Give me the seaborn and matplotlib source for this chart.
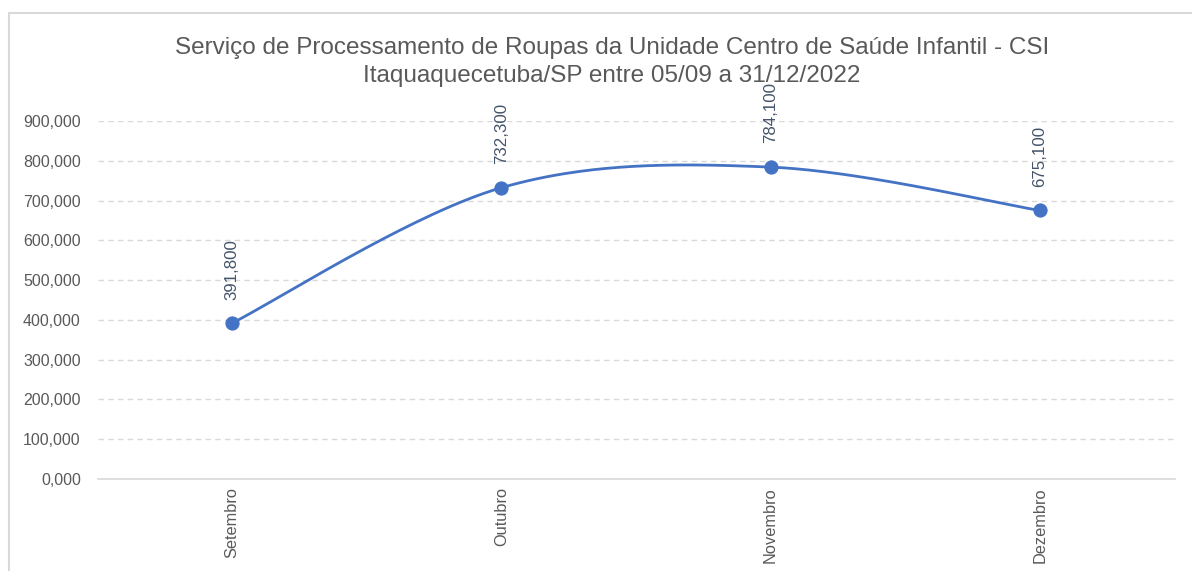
import numpy as np
import pandas as pd
import matplotlib
matplotlib.use("Agg")
import matplotlib.pyplot as plt
import seaborn as sns
from matplotlib.lines import Line2D
from matplotlib.ticker import MultipleLocator, FuncFormatter

# DATA

meses = ["Setembro", "Outubro", "Novembro", "Dezembro"]
quilos = [391.8, 732.3, 784.1, 675.1]
titulo = ("Serviço de Processamento de Roupas da Unidade Centro de Saúde Infantil - CSI\n"
          "Itaquaquecetuba/SP entre 05/09 a 31/12/2022")

df = pd.DataFrame({"mes": meses, "valor": quilos})
df["pos"] = np.arange(len(meses))


# SMOOTH LINE (catmull-rom like excel)

def suavizar(x, y, n=60):
    x = np.asarray(x, float)
    y = np.asarray(y, float)
    px = np.concatenate([[x[0]], x, [x[-1]]])
    py = np.concatenate([[y[0]], y, [y[-1]]])
    xs, ys = [], []
    t = np.linspace(0, 1, n)
    for i in range(1, len(px) - 2):
        p0 = np.array([px[i], py[i]])
        p3 = np.array([px[i + 1], py[i + 1]])
        c1 = p0 + (p3 - np.array([px[i - 1], py[i - 1]])) / 6
        c2 = p3 - (np.array([px[i + 2], py[i + 2]]) - p0) / 6
        b = ((1 - t) ** 3)[:, None] * p0 + (3 * (1 - t) ** 2 * t)[:, None] * c1 \
            + (3 * (1 - t) * t ** 2)[:, None] * c2 + (t ** 3)[:, None] * p3
        xs.extend(b[:, 0])
        ys.extend(b[:, 1])
    return pd.DataFrame({"x": xs, "y": ys})

curva = suavizar(df["pos"], df["valor"])


# PLOT

sns.set_theme(style="white")
plt.rcParams["font.family"] = ["Liberation Sans", "DejaVu Sans"]

azul = "#4472C4"
cinza = "#595959"

fig = plt.figure(figsize=(11.92, 5.71), dpi=100)
ax = fig.add_axes([97.5 / 1192, 92 / 571, 1077 / 1192, 358 / 571])

sns.lineplot(data=curva, x="x", y="y", ax=ax, color=azul, linewidth=2,
             sort=False, estimator=None)
sns.scatterplot(data=df, x="pos", y="valor", ax=ax, color=azul, s=90,
                edgecolor=azul, zorder=5)

for p, v in zip(df["pos"], df["valor"]):
    ax.annotate(f"{v:.3f}".replace(".", ","), (p, v), xytext=(0, 17),
                textcoords="offset points", rotation=90, ha="center",
                va="bottom", fontsize=12.2, color="#44546A")

ax.set_xlim(-0.5, len(meses) - 0.5)
ax.set_ylim(0, 900)
ax.yaxis.set_major_locator(MultipleLocator(100))
ax.yaxis.set_major_formatter(FuncFormatter(lambda v, _: f"{v:.3f}".replace(".", ",")))
ax.set_xticks(df["pos"])
ax.set_xticklabels(meses, rotation=90, va="top")

ax.tick_params(axis="both", labelsize=11.5, colors=cinza, length=0)
ax.tick_params(axis="x", pad=6, labelsize=11.8)
ax.tick_params(axis="y", pad=12)

ax.grid(axis="y", color="#D9D9D9", linestyle=(0, (4, 3)), linewidth=1)
ax.set_axisbelow(True)
for s in ["top", "right", "left"]:
    ax.spines[s].set_visible(False)
ax.spines["bottom"].set_color("#D9D9D9")
ax.spines["bottom"].set_linewidth(1.2)
ax.set_xlabel("")
ax.set_ylabel("")

fig.text(612 / 1192, 1 - 37 / 571, titulo, ha="center", va="top",
         fontsize=17.5, color=cinza, linespacing=1.38)

# chart border (left and top visible)
fig.add_artist(Line2D([9 / 1192, 9 / 1192], [0, 1 - 13 / 571],
                      transform=fig.transFigure, color="#D9D9D9", linewidth=1.5))
fig.add_artist(Line2D([9 / 1192, 1], [1 - 13 / 571, 1 - 13 / 571],
                      transform=fig.transFigure, color="#D9D9D9", linewidth=1.5))

fig.savefig("out.png", dpi=100)
